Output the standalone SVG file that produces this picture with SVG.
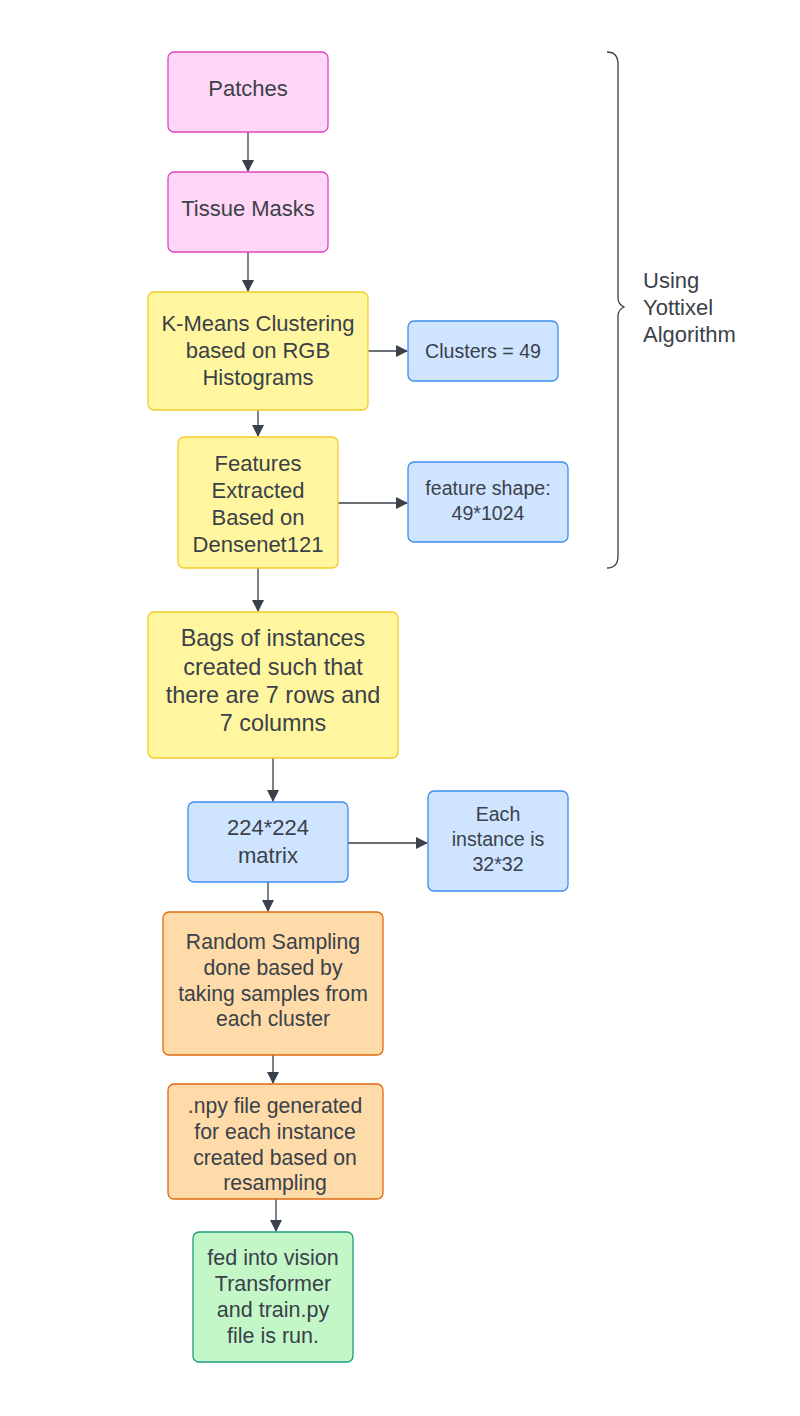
<svg xmlns="http://www.w3.org/2000/svg" width="800" height="1416" viewBox="0 0 800 1416">
<style>
rect{stroke-width:1.3}
.pink{fill:#ffd6f5;stroke:#e046c8}
.yel{fill:#fff69f;stroke:#f5cc2a}
.blue{fill:#cfe4ff;stroke:#3c8cf0}
.org{fill:#fedba8;stroke:#e06a10}
.grn{fill:#c3f7c8;stroke:#1f9c80}
text{font-family:"Liberation Sans",Arial,sans-serif;font-size:22px;fill:#3a414a;text-anchor:middle}
.s20 text{font-size:19.6px}
.s21 text{font-size:21.2px}
.s23 text{font-size:23.4px}
.c line{stroke:#3a414a;stroke-width:1.3;fill:none}
</style>
<defs>
<marker id="ah" markerWidth="12" markerHeight="12" refX="11" refY="6" orient="auto" markerUnits="userSpaceOnUse">
<path d="M0,0 L12,6 L0,12 Z" fill="#3a414a"/>
</marker>
</defs>
<rect width="800" height="1416" fill="#fff"/>
<g class="c">
<line x1="248" y1="132" x2="248" y2="171" marker-end="url(#ah)"/>
<line x1="248" y1="252" x2="248" y2="291" marker-end="url(#ah)"/>
<line x1="368" y1="351" x2="407" y2="351" marker-end="url(#ah)"/>
<line x1="258" y1="410" x2="258" y2="436" marker-end="url(#ah)"/>
<line x1="338" y1="503" x2="407" y2="503" marker-end="url(#ah)"/>
<line x1="258" y1="568" x2="258" y2="611" marker-end="url(#ah)"/>
<line x1="273" y1="758" x2="273" y2="801" marker-end="url(#ah)"/>
<line x1="348" y1="843" x2="427" y2="843" marker-end="url(#ah)"/>
<line x1="268" y1="882" x2="268" y2="911" marker-end="url(#ah)"/>
<line x1="273" y1="1055" x2="273" y2="1083" marker-end="url(#ah)"/>
<line x1="276" y1="1199" x2="276" y2="1231" marker-end="url(#ah)"/>
</g>
<g id="patches"><rect class="pink" x="168" y="52" width="160" height="80" rx="6"/><text x="248" y="96">Patches</text></g>
<g id="tissue"><rect class="pink" x="168" y="172" width="160" height="80" rx="6"/><text x="248" y="216">Tissue Masks</text></g>
<g id="kmeans"><rect class="yel" x="148" y="292" width="220" height="118" rx="6"/>
<text x="258" y="331">K-Means Clustering</text><text x="258" y="358">based on RGB</text><text x="258" y="385">Histograms</text></g>
<g id="clusters" class="s20"><rect class="blue" x="408" y="321" width="150" height="60" rx="6"/><text x="483" y="358">Clusters = 49</text></g>
<g id="features"><rect class="yel" x="178" y="437" width="160" height="131" rx="6"/>
<text x="258" y="471">Features</text><text x="258" y="498">Extracted</text><text x="258" y="525">Based on</text><text x="258" y="552">Densenet121</text></g>
<g id="fshape" class="s20"><rect class="blue" x="408" y="462" width="160" height="80" rx="6"/>
<text x="488" y="495">feature shape:</text><text x="488" y="520">49*1024</text></g>
<g id="bags" class="s23"><rect class="yel" x="148" y="612" width="250" height="146" rx="6"/>
<text x="273" y="646">Bags of instances</text><text x="273" y="675">created such that</text><text x="273" y="703">there are 7 rows and</text><text x="273" y="731">7 columns</text></g>
<g id="matrix"><rect class="blue" x="188" y="802" width="160" height="80" rx="6"/>
<text x="268" y="835">224*224</text><text x="268" y="863">matrix</text></g>
<g id="each" class="s20"><rect class="blue" x="428" y="791" width="140" height="100" rx="6"/>
<text x="498" y="821">Each</text><text x="498" y="846">instance is</text><text x="498" y="871">32*32</text></g>
<g id="random" class="s21"><rect class="org" x="163" y="912" width="220" height="143" rx="6"/>
<text x="273" y="949">Random Sampling</text><text x="273" y="975">done based by</text><text x="273" y="1001">taking samples from</text><text x="273" y="1026">each cluster</text></g>
<g id="npy" class="s21"><rect class="org" x="168" y="1084" width="215" height="115" rx="6"/>
<text x="275" y="1113">.npy file generated</text><text x="275" y="1139">for each instance</text><text x="275" y="1165">created based on</text><text x="275" y="1190">resampling</text></g>
<g id="vit"><rect class="grn" x="193" y="1232" width="160" height="130" rx="6"/>
<text x="273" y="1265" style="font-size:21.5px">fed into vision</text><text x="273" y="1291" style="font-size:21.5px">Transformer</text><text x="273" y="1317" style="font-size:21.5px">and train.py</text><text x="273" y="1343" style="font-size:21.5px">file is run.</text></g>
<g id="brace">
<path d="M607,52 Q618,52 618,64 L618,298 Q618,304 624,307 Q618,310 618,316 L618,556 Q618,568 607,568" fill="none" stroke="#3a414a" stroke-width="1.3"/>
<text x="643" y="288" style="text-anchor:start">Using</text><text x="643" y="315" style="text-anchor:start">Yottixel</text><text x="643" y="342" style="text-anchor:start">Algorithm</text>
</g>
</svg>
